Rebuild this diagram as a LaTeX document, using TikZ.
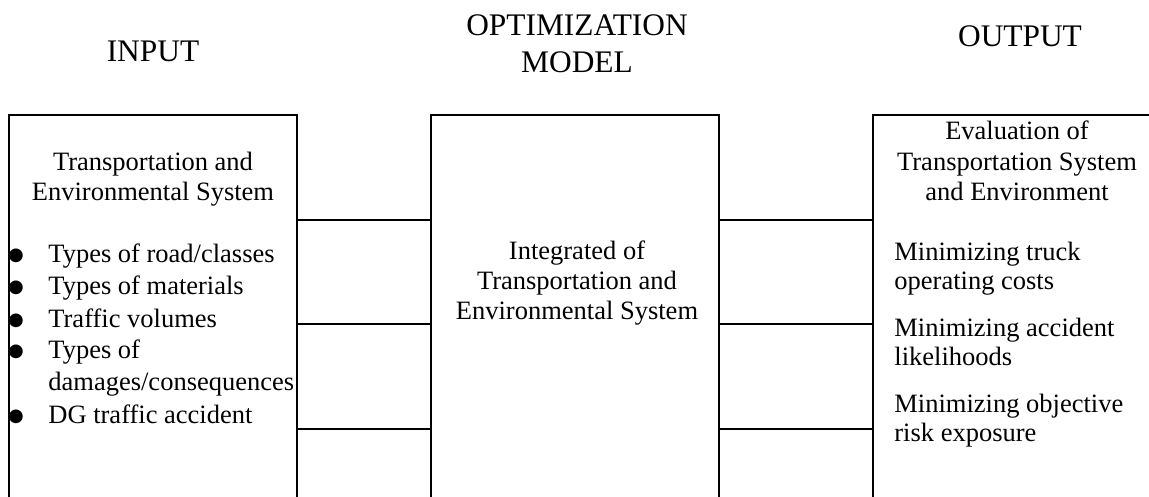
\documentclass[tikz,border=0pt]{standalone}
\usepackage{fontspec}
\setmainfont{Liberation Serif}
\newfontfamily\dejavu{DejaVu Sans}
\begin{document}
\begin{tikzpicture}[x=0.5pt,y=-0.5pt,
  box/.style={draw, line width=1pt, rectangle, outer sep=0pt, inner sep=0pt, anchor=north west, minimum width=144pt, minimum height=260pt},
  wire/.style={line width=1pt},
  head/.style={font=\fontsize{15.7}{18}\selectfont, inner sep=0pt, anchor=base},
  txt/.style={font=\fontsize{13.25}{15}\selectfont, inner sep=0pt, anchor=base},
  ltxt/.style={font=\fontsize{13.25}{15}\selectfont, inner sep=0pt, anchor=base west},
  bul/.style={font=\dejavu\fontsize{9}{10}\selectfont, inner sep=0pt, anchor=base, yshift=1pt}]
\useasboundingbox (0,0) rectangle (1149,497);
\clip (0,0) rectangle (1149,497);
% headers
\node[head] (hin) at (153,62) {INPUT};
\node[head] (hopt1) at (577,36) {OPTIMIZATION};
\node[head] (hopt2) at (577,73) {MODEL};
\node[head] (hout) at (1020,47) {OUTPUT};
% boxes
\node[box] (inbox) at (9,115) {};
\node[box] (midbox) at (431,115) {};
\node[box] (outbox) at (873,115) {};
% connectors
\coordinate (r1) at (0,220);
\coordinate (r2) at (0,324);
\coordinate (r3) at (0,429);
\foreach \r in {r1,r2,r3}{
  \draw[wire] (inbox.east |- \r) -- (midbox.west |- \r);
  \draw[wire] (midbox.east |- \r) -- (outbox.west |- \r);
}
% input text
\node[txt] (in1) at (153,170) {Transportation and};
\node[txt] (in2) at (153,200) {Environmental System};
\node[bul] (b1) at (16,262) {●};
\node[ltxt] (i1) at (48,262) {Types of road/classes};
\node[bul] (b2) at (16,294) {●};
\node[ltxt] (i2) at (48,294) {Types of materials};
\node[bul] (b3) at (16,327) {●};
\node[ltxt] (i3) at (48,327) {Traffic volumes};
\node[bul] (b4) at (16,358) {●};
\node[ltxt] (i4) at (48,358) {Types of};
\node[ltxt] (i4b) at (48,390) {damages/consequences};
\node[bul] (b5) at (16,423) {●};
\node[ltxt] (i5) at (48,423) {DG traffic accident};
% middle text
\node[txt] (m1) at (577,259) {Integrated of};
\node[txt] (m2) at (577,289) {Transportation and};
\node[txt] (m3) at (577,319) {Environmental System};
% output text
\node[txt] (o1) at (1017,140) {Evaluation of};
\node[txt] (o2) at (1017,170) {Transportation System};
\node[txt] (o3) at (1017,200) {and Environment};
\node[ltxt] (p1) at (894,260) {Minimizing truck};
\node[ltxt] (p1b) at (894,289) {operating costs};
\node[ltxt] (p2) at (894,336) {Minimizing accident};
\node[ltxt] (p2b) at (894,365) {likelihoods};
\node[ltxt] (p3) at (894,412) {Minimizing objective};
\node[ltxt] (p3b) at (894,441) {risk exposure};
\end{tikzpicture}
\end{document}
